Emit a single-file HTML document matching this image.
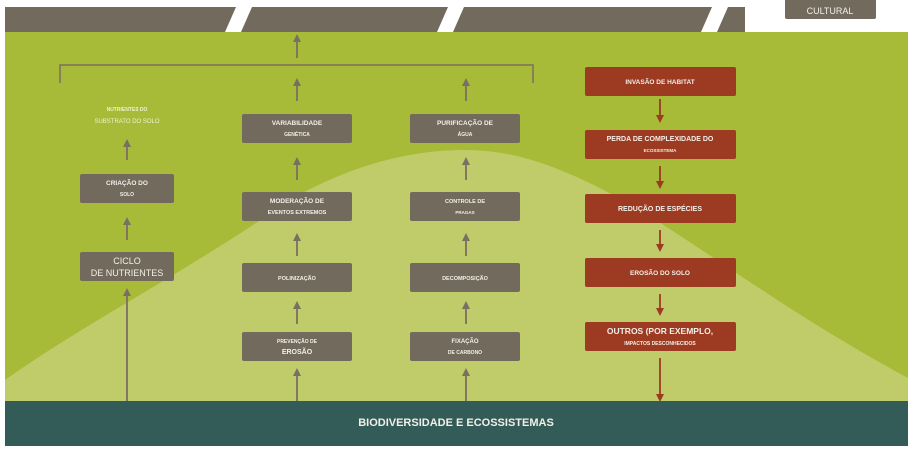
<!DOCTYPE html>
<html><head><meta charset="utf-8"><style>
html,body{margin:0;padding:0;background:#fff;}
svg{display:block;}
text{font-family:"Liberation Sans",sans-serif;font-weight:bold;fill:#f2efe8;text-anchor:middle;}
</style></head><body>
<svg width="914" height="451" viewBox="0 0 914 451" xmlns="http://www.w3.org/2000/svg">
<defs>
<marker id="ag" markerWidth="8" markerHeight="8" refX="4" refY="4" orient="auto" markerUnits="userSpaceOnUse"><path d="M0,0 L8,4 L0,8 z" fill="#7a6f63"/></marker>
<marker id="ar" markerWidth="8" markerHeight="8" refX="4" refY="4" orient="auto" markerUnits="userSpaceOnUse"><path d="M0,0 L8,4 L0,8 z" fill="#9c3a22"/></marker>
</defs>
<rect x="0" y="0" width="914" height="451" fill="#fff"/>
<rect x="5" y="7" width="740" height="25" fill="#736a5e"/>
<polygon points="236,7 252,7 241,32 225,32" fill="#fff"/>
<polygon points="448,7 464,7 453,32 437,32" fill="#fff"/>
<polygon points="712,7 728,7 717,32 701,32" fill="#fff"/>
<rect x="785" y="-4" width="91" height="23" rx="2" fill="#736a5e"/>
<text x="830" y="14" font-size="9" style="font-weight:normal">CULTURAL</text>
<rect x="5" y="32" width="903" height="369" fill="#a8bb38"/>
<path d="M5,380 C90,320 190,270 290,200 C360,160 420,150 465,150 C520,150 570,170 640,210 C720,260 800,320 908,378 L908,401 L5,401 Z" fill="#c0cc6a"/>
<rect x="5" y="401" width="903" height="45" fill="#335c58"/>
<text x="456" y="426" font-size="11">BIODIVERSIDADE E ECOSSISTEMAS</text>
<path d="M60,83 L60,65 L533,65 L533,83" fill="none" stroke="#7a6f63" stroke-width="1.5"/>
<g stroke="#7a6f63" stroke-width="1.8">
<line x1="297" y1="58" x2="297" y2="38" marker-end="url(#ag)"/>
<line x1="297" y1="101" x2="297" y2="82" marker-end="url(#ag)"/>
<line x1="466" y1="101" x2="466" y2="82" marker-end="url(#ag)"/>
<line x1="297" y1="180" x2="297" y2="161" marker-end="url(#ag)"/>
<line x1="466" y1="180" x2="466" y2="161" marker-end="url(#ag)"/>
<line x1="297" y1="256" x2="297" y2="237" marker-end="url(#ag)"/>
<line x1="466" y1="256" x2="466" y2="237" marker-end="url(#ag)"/>
<line x1="297" y1="324" x2="297" y2="305" marker-end="url(#ag)"/>
<line x1="466" y1="324" x2="466" y2="305" marker-end="url(#ag)"/>
<line x1="297" y1="401" x2="297" y2="372" marker-end="url(#ag)"/>
<line x1="466" y1="401" x2="466" y2="372" marker-end="url(#ag)"/>
<line x1="127" y1="160" x2="127" y2="143" marker-end="url(#ag)"/>
<line x1="127" y1="240" x2="127" y2="221" marker-end="url(#ag)"/>
<line x1="127" y1="401" x2="127" y2="292" marker-end="url(#ag)"/>
</g>
<g stroke="#9c3a22" stroke-width="1.8">
<line x1="660" y1="99" x2="660" y2="119" marker-end="url(#ar)"/>
<line x1="660" y1="166" x2="660" y2="185" marker-end="url(#ar)"/>
<line x1="660" y1="230" x2="660" y2="248" marker-end="url(#ar)"/>
<line x1="660" y1="294" x2="660" y2="312" marker-end="url(#ar)"/>
<line x1="660" y1="358" x2="660" y2="398" marker-end="url(#ar)"/>
</g>
<text x="127" y="111" font-size="5" style="fill:#eef2d0">NUTRIENTES DO</text>
<text x="127" y="123" font-size="6" style="fill:#eef2d0;font-weight:normal">SUBSTRATO DO SOLO</text>
<rect x="80" y="174" width="94" height="29" rx="2" fill="#736a5e"/>
<text x="127" y="185" font-size="6.5">CRIAÇÃO DO</text>
<text x="127" y="196" font-size="5">SOLO</text>
<rect x="80" y="252" width="94" height="29" rx="2" fill="#736a5e"/>
<text x="127" y="264" font-size="9" style="font-weight:normal">CICLO</text>
<text x="127" y="276" font-size="9" style="font-weight:normal">DE NUTRIENTES</text>
<rect x="242" y="114" width="110" height="29" rx="2" fill="#736a5e"/>
<text x="297" y="125" font-size="6.5">VARIABILIDADE</text>
<text x="297" y="136" font-size="5">GENÉTICA</text>
<rect x="242" y="192" width="110" height="29" rx="2" fill="#736a5e"/>
<text x="297" y="203" font-size="6.5">MODERAÇÃO DE</text>
<text x="297" y="214" font-size="5.5">EVENTOS EXTREMOS</text>
<rect x="242" y="263" width="110" height="29" rx="2" fill="#736a5e"/>
<text x="297" y="280" font-size="5.5">POLINIZAÇÃO</text>
<rect x="242" y="332" width="110" height="29" rx="2" fill="#736a5e"/>
<text x="297" y="343" font-size="5">PREVENÇÃO DE</text>
<text x="297" y="354" font-size="7">EROSÃO</text>
<rect x="410" y="114" width="110" height="29" rx="2" fill="#736a5e"/>
<text x="465" y="125" font-size="6.5">PURIFICAÇÃO DE</text>
<text x="465" y="136" font-size="5">ÁGUA</text>
<rect x="410" y="192" width="110" height="29" rx="2" fill="#736a5e"/>
<text x="465" y="203" font-size="5.5">CONTROLE DE</text>
<text x="465" y="214" font-size="4.5">PRAGAS</text>
<rect x="410" y="263" width="110" height="29" rx="2" fill="#736a5e"/>
<text x="465" y="280" font-size="5.5">DECOMPOSIÇÃO</text>
<rect x="410" y="332" width="110" height="29" rx="2" fill="#736a5e"/>
<text x="465" y="343" font-size="6">FIXAÇÃO</text>
<text x="465" y="354" font-size="5">DE CARBONO</text>
<rect x="585" y="67" width="151" height="29" rx="2" fill="#9c3a22"/>
<text x="660" y="84" font-size="6.5">INVASÃO DE HABITAT</text>
<rect x="585" y="130" width="151" height="29" rx="2" fill="#9c3a22"/>
<text x="660" y="141" font-size="7">PERDA DE COMPLEXIDADE DO</text>
<text x="660" y="152" font-size="4.5">ECOSSISTEMA</text>
<rect x="585" y="194" width="151" height="29" rx="2" fill="#9c3a22"/>
<text x="660" y="211" font-size="7">REDUÇÃO DE ESPÉCIES</text>
<rect x="585" y="258" width="151" height="29" rx="2" fill="#9c3a22"/>
<text x="660" y="275" font-size="6.5">EROSÃO DO SOLO</text>
<rect x="585" y="322" width="151" height="29" rx="2" fill="#9c3a22"/>
<text x="660" y="334" font-size="8.5">OUTROS (POR EXEMPLO,</text>
<text x="660" y="345" font-size="5">IMPACTOS DESCONHECIDOS</text>
</svg>
</body></html>
